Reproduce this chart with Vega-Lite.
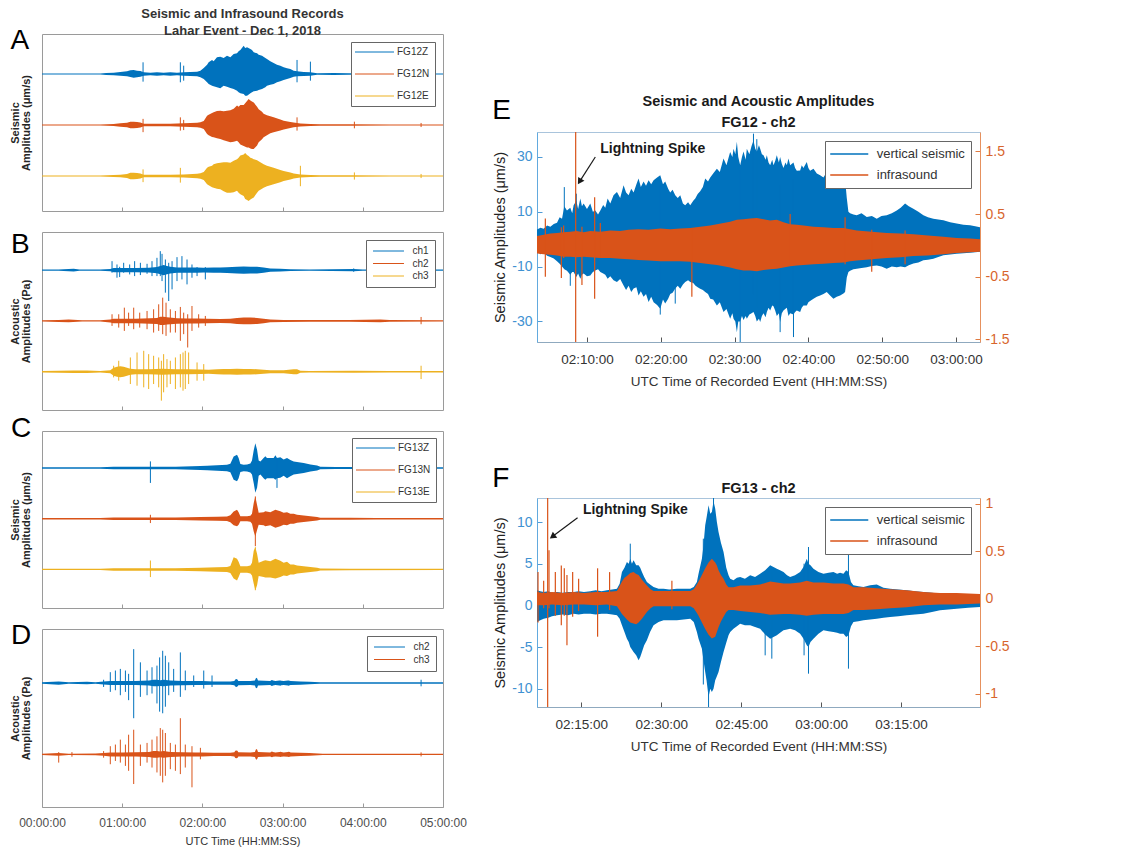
{
"$schema": "https://vega.github.io/schema/vega-lite/v6.json",
"background": "white",
"padding": {"left": 8, "top": 7, "right": 5, "bottom": 0},
"config": {"font": "Liberation Sans", "axis": {"grid": false, "labelOverlap": false}},
"datasets": {
"A": [
{"c":"FG12Z","t":0,"lo":-0.008,"hi":0.008},{"c":"FG12Z","t":43.6,"lo":-0.01,"hi":0.01},{"c":"FG12Z","t":48,"lo":-0.02,"hi":0.02},{"c":"FG12Z","t":53.6,"lo":-0.026,"hi":0.026},{"c":"FG12Z","t":58.6,"lo":-0.033,"hi":0.039},{"c":"FG12Z","t":63.6,"lo":-0.046,"hi":0.052},{"c":"FG12Z","t":66.1,"lo":-0.059,"hi":0.072},{"c":"FG12Z","t":68.6,"lo":-0.072,"hi":0.078},{"c":"FG12Z","t":71.1,"lo":-0.065,"hi":0.065},{"c":"FG12Z","t":73.6,"lo":-0.052,"hi":0.059},{"c":"FG12Z","t":76.1,"lo":-0.033,"hi":0.033},{"c":"FG12Z","t":81.1,"lo":-0.026,"hi":0.026},{"c":"FG12Z","t":86,"lo":-0.033,"hi":0.033},{"c":"FG12Z","t":91,"lo":-0.026,"hi":0.026},{"c":"FG12Z","t":96,"lo":-0.033,"hi":0.033},{"c":"FG12Z","t":101,"lo":-0.026,"hi":0.026},{"c":"FG12Z","t":106,"lo":-0.033,"hi":0.033},{"c":"FG12Z","t":111,"lo":-0.039,"hi":0.039},{"c":"FG12Z","t":116,"lo":-0.046,"hi":0.046},{"c":"FG12Z","t":118.5,"lo":-0.065,"hi":0.065},{"c":"FG12Z","t":121,"lo":-0.098,"hi":0.118},{"c":"FG12Z","t":123.5,"lo":-0.163,"hi":0.183},{"c":"FG12Z","t":124.7,"lo":-0.196,"hi":0.229},{"c":"FG12Z","t":127.2,"lo":-0.229,"hi":0.275},{"c":"FG12Z","t":128.4,"lo":-0.242,"hi":0.248},{"c":"FG12Z","t":130.9,"lo":-0.261,"hi":0.327},{"c":"FG12Z","t":133.4,"lo":-0.281,"hi":0.34},{"c":"FG12Z","t":135.9,"lo":-0.229,"hi":0.314},{"c":"FG12Z","t":138.4,"lo":-0.248,"hi":0.359},{"c":"FG12Z","t":140.9,"lo":-0.275,"hi":0.327},{"c":"FG12Z","t":143.4,"lo":-0.294,"hi":0.392},{"c":"FG12Z","t":145.9,"lo":-0.327,"hi":0.405},{"c":"FG12Z","t":147.1,"lo":-0.359,"hi":0.444},{"c":"FG12Z","t":148.4,"lo":-0.379,"hi":0.471},{"c":"FG12Z","t":150.9,"lo":-0.392,"hi":0.556},{"c":"FG12Z","t":152,"lo":-0.425,"hi":0.51},{"c":"FG12Z","t":153.4,"lo":-0.425,"hi":0.523},{"c":"FG12Z","t":155.9,"lo":-0.379,"hi":0.49},{"c":"FG12Z","t":157.1,"lo":-0.359,"hi":0.471},{"c":"FG12Z","t":158.4,"lo":-0.34,"hi":0.425},{"c":"FG12Z","t":160.9,"lo":-0.327,"hi":0.405},{"c":"FG12Z","t":162.1,"lo":-0.314,"hi":0.379},{"c":"FG12Z","t":164.6,"lo":-0.294,"hi":0.359},{"c":"FG12Z","t":167.1,"lo":-0.261,"hi":0.314},{"c":"FG12Z","t":168.3,"lo":-0.229,"hi":0.294},{"c":"FG12Z","t":170.8,"lo":-0.209,"hi":0.248},{"c":"FG12Z","t":173.3,"lo":-0.196,"hi":0.216},{"c":"FG12Z","t":175.8,"lo":-0.163,"hi":0.183},{"c":"FG12Z","t":178.3,"lo":-0.144,"hi":0.163},{"c":"FG12Z","t":180.8,"lo":-0.118,"hi":0.131},{"c":"FG12Z","t":183.3,"lo":-0.098,"hi":0.111},{"c":"FG12Z","t":185.8,"lo":-0.078,"hi":0.098},{"c":"FG12Z","t":188.3,"lo":-0.052,"hi":0.065},{"c":"FG12Z","t":190.8,"lo":-0.046,"hi":0.052},{"c":"FG12Z","t":195.8,"lo":-0.039,"hi":0.039},{"c":"FG12Z","t":200.8,"lo":-0.033,"hi":0.033},{"c":"FG12Z","t":205.8,"lo":-0.016,"hi":0.016},{"c":"FG12Z","t":218.2,"lo":-0.02,"hi":0.02},{"c":"FG12Z","t":230,"lo":-0.013,"hi":0.013},{"c":"FG12Z","t":260,"lo":-0.01,"hi":0.01},{"c":"FG12Z","t":300,"lo":-0.008,"hi":0.008},
{"c":"FG12N","t":0,"lo":-1.008,"hi":-0.992},{"c":"FG12N","t":43.6,"lo":-1.01,"hi":-0.99},{"c":"FG12N","t":53.6,"lo":-1.02,"hi":-0.98},{"c":"FG12N","t":58.6,"lo":-1.033,"hi":-0.967},{"c":"FG12N","t":63.6,"lo":-1.046,"hi":-0.954},{"c":"FG12N","t":66.1,"lo":-1.065,"hi":-0.935},{"c":"FG12N","t":68.6,"lo":-1.065,"hi":-0.935},{"c":"FG12N","t":71.1,"lo":-1.059,"hi":-0.941},{"c":"FG12N","t":73.6,"lo":-1.05,"hi":-0.95},{"c":"FG12N","t":76.1,"lo":-1.026,"hi":-0.974},{"c":"FG12N","t":86,"lo":-1.026,"hi":-0.974},{"c":"FG12N","t":96,"lo":-1.026,"hi":-0.974},{"c":"FG12N","t":106,"lo":-1.033,"hi":-0.967},{"c":"FG12N","t":116,"lo":-1.046,"hi":-0.954},{"c":"FG12N","t":118.5,"lo":-1.052,"hi":-0.948},{"c":"FG12N","t":121,"lo":-1.078,"hi":-0.922},{"c":"FG12N","t":123.5,"lo":-1.176,"hi":-0.817},{"c":"FG12N","t":124.7,"lo":-1.2,"hi":-0.8},{"c":"FG12N","t":127.2,"lo":-1.235,"hi":-0.765},{"c":"FG12N","t":128.4,"lo":-1.242,"hi":-0.752},{"c":"FG12N","t":130.9,"lo":-1.26,"hi":-0.725},{"c":"FG12N","t":133.4,"lo":-1.275,"hi":-0.719},{"c":"FG12N","t":135.9,"lo":-1.3,"hi":-0.73},{"c":"FG12N","t":138.4,"lo":-1.32,"hi":-0.72},{"c":"FG12N","t":140.9,"lo":-1.34,"hi":-0.71},{"c":"FG12N","t":143.4,"lo":-1.33,"hi":-0.68},{"c":"FG12N","t":145.9,"lo":-1.31,"hi":-0.62},{"c":"FG12N","t":147.1,"lo":-1.34,"hi":-0.64},{"c":"FG12N","t":148.4,"lo":-1.38,"hi":-0.61},{"c":"FG12N","t":150.9,"lo":-1.41,"hi":-0.61},{"c":"FG12N","t":153.4,"lo":-1.44,"hi":-0.53},{"c":"FG12N","t":154.6,"lo":-1.44,"hi":-0.49},{"c":"FG12N","t":155.9,"lo":-1.46,"hi":-0.52},{"c":"FG12N","t":157.1,"lo":-1.47,"hi":-0.54},{"c":"FG12N","t":158.4,"lo":-1.47,"hi":-0.56},{"c":"FG12N","t":160.9,"lo":-1.4,"hi":-0.64},{"c":"FG12N","t":162.1,"lo":-1.34,"hi":-0.69},{"c":"FG12N","t":164.6,"lo":-1.28,"hi":-0.74},{"c":"FG12N","t":165.8,"lo":-1.24,"hi":-0.78},{"c":"FG12N","t":168.3,"lo":-1.2,"hi":-0.81},{"c":"FG12N","t":170.8,"lo":-1.16,"hi":-0.83},{"c":"FG12N","t":173.3,"lo":-1.14,"hi":-0.85},{"c":"FG12N","t":178.3,"lo":-1.11,"hi":-0.89},{"c":"FG12N","t":180.8,"lo":-1.09,"hi":-0.915},{"c":"FG12N","t":185.8,"lo":-1.06,"hi":-0.94},{"c":"FG12N","t":188.3,"lo":-1.045,"hi":-0.95},{"c":"FG12N","t":193.3,"lo":-1.03,"hi":-0.97},{"c":"FG12N","t":200.8,"lo":-1.02,"hi":-0.98},{"c":"FG12N","t":208,"lo":-1.013,"hi":-0.987},{"c":"FG12N","t":233.7,"lo":-1.013,"hi":-0.987},{"c":"FG12N","t":260,"lo":-1.01,"hi":-0.99},{"c":"FG12N","t":300,"lo":-1.008,"hi":-0.992},
{"c":"FG12E","t":0,"lo":-2.008,"hi":-1.992},{"c":"FG12E","t":43.6,"lo":-2.01,"hi":-1.99},{"c":"FG12E","t":53.6,"lo":-2.02,"hi":-1.98},{"c":"FG12E","t":58.6,"lo":-2.026,"hi":-1.974},{"c":"FG12E","t":63.6,"lo":-2.04,"hi":-1.96},{"c":"FG12E","t":66.1,"lo":-2.065,"hi":-1.935},{"c":"FG12E","t":68.6,"lo":-2.065,"hi":-1.935},{"c":"FG12E","t":71.1,"lo":-2.06,"hi":-1.94},{"c":"FG12E","t":73.6,"lo":-2.05,"hi":-1.95},{"c":"FG12E","t":76.1,"lo":-2.026,"hi":-1.974},{"c":"FG12E","t":86,"lo":-2.026,"hi":-1.974},{"c":"FG12E","t":96,"lo":-2.026,"hi":-1.974},{"c":"FG12E","t":106,"lo":-2.03,"hi":-1.97},{"c":"FG12E","t":116,"lo":-2.046,"hi":-1.954},{"c":"FG12E","t":118.5,"lo":-2.052,"hi":-1.948},{"c":"FG12E","t":121,"lo":-2.08,"hi":-1.92},{"c":"FG12E","t":123.5,"lo":-2.16,"hi":-1.84},{"c":"FG12E","t":124.7,"lo":-2.18,"hi":-1.82},{"c":"FG12E","t":127.2,"lo":-2.22,"hi":-1.8},{"c":"FG12E","t":128.4,"lo":-2.23,"hi":-1.77},{"c":"FG12E","t":130.9,"lo":-2.25,"hi":-1.75},{"c":"FG12E","t":133.4,"lo":-2.26,"hi":-1.74},{"c":"FG12E","t":135.9,"lo":-2.3,"hi":-1.73},{"c":"FG12E","t":138.4,"lo":-2.33,"hi":-1.73},{"c":"FG12E","t":140.9,"lo":-2.33,"hi":-1.74},{"c":"FG12E","t":143.4,"lo":-2.32,"hi":-1.7},{"c":"FG12E","t":145.9,"lo":-2.29,"hi":-1.67},{"c":"FG12E","t":147.1,"lo":-2.33,"hi":-1.64},{"c":"FG12E","t":148.4,"lo":-2.36,"hi":-1.6},{"c":"FG12E","t":150.9,"lo":-2.39,"hi":-1.58},{"c":"FG12E","t":152,"lo":-2.45,"hi":-1.55},{"c":"FG12E","t":153.4,"lo":-2.47,"hi":-1.59},{"c":"FG12E","t":154.6,"lo":-2.49,"hi":-1.61},{"c":"FG12E","t":155.9,"lo":-2.46,"hi":-1.64},{"c":"FG12E","t":157.1,"lo":-2.44,"hi":-1.65},{"c":"FG12E","t":158.4,"lo":-2.42,"hi":-1.67},{"c":"FG12E","t":160.9,"lo":-2.33,"hi":-1.69},{"c":"FG12E","t":162.1,"lo":-2.29,"hi":-1.71},{"c":"FG12E","t":164.6,"lo":-2.25,"hi":-1.75},{"c":"FG12E","t":165.8,"lo":-2.23,"hi":-1.77},{"c":"FG12E","t":168.3,"lo":-2.2,"hi":-1.8},{"c":"FG12E","t":170.8,"lo":-2.18,"hi":-1.82},{"c":"FG12E","t":173.3,"lo":-2.16,"hi":-1.84},{"c":"FG12E","t":178.3,"lo":-2.12,"hi":-1.88},{"c":"FG12E","t":180.8,"lo":-2.1,"hi":-1.9},{"c":"FG12E","t":185.8,"lo":-2.07,"hi":-1.93},{"c":"FG12E","t":188.3,"lo":-2.05,"hi":-1.95},{"c":"FG12E","t":193.3,"lo":-2.03,"hi":-1.97},{"c":"FG12E","t":200.8,"lo":-2.02,"hi":-1.98},{"c":"FG12E","t":208,"lo":-2.013,"hi":-1.987},{"c":"FG12E","t":233.7,"lo":-2.013,"hi":-1.987},{"c":"FG12E","t":260,"lo":-2.01,"hi":-1.99},{"c":"FG12E","t":300,"lo":-2.008,"hi":-1.992}
],
"As": [
{"c":"FG12Z","t":75.6,"lo":-0.15,"hi":0.229},{"c":"FG12Z","t":103.5,"lo":-0.163,"hi":0.229},{"c":"FG12Z","t":106,"lo":-0.131,"hi":0.163},{"c":"FG12Z","t":190.8,"lo":-0.163,"hi":0.275},{"c":"FG12Z","t":200.8,"lo":-0.131,"hi":0.242},
{"c":"FG12N","t":75.6,"lo":-1.14,"hi":-0.88},{"c":"FG12N","t":103.5,"lo":-1.11,"hi":-0.85},{"c":"FG12N","t":106,"lo":-1.1,"hi":-0.9},{"c":"FG12N","t":190.8,"lo":-1.11,"hi":-0.85},{"c":"FG12N","t":233.7,"lo":-1.065,"hi":-0.935},{"c":"FG12N","t":283.6,"lo":-1.04,"hi":-0.96},
{"c":"FG12E","t":75.6,"lo":-2.12,"hi":-1.87},{"c":"FG12E","t":103.5,"lo":-2.13,"hi":-1.84},{"c":"FG12E","t":193.3,"lo":-2.2,"hi":-1.8},{"c":"FG12E","t":233.7,"lo":-2.07,"hi":-1.93},{"c":"FG12E","t":283.6,"lo":-2.04,"hi":-1.96}
],
"B": [
{"c":"ch1","t":0,"lo":-0.013,"hi":0.013},{"c":"ch1","t":12.5,"lo":-0.013,"hi":0.013},{"c":"ch1","t":23.7,"lo":-0.026,"hi":0.026},{"c":"ch1","t":28,"lo":-0.013,"hi":0.013},{"c":"ch1","t":43.6,"lo":-0.013,"hi":0.013},{"c":"ch1","t":51.1,"lo":-0.02,"hi":0.02},{"c":"ch1","t":53.6,"lo":-0.04,"hi":0.04},{"c":"ch1","t":60,"lo":-0.04,"hi":0.04},{"c":"ch1","t":70,"lo":-0.04,"hi":0.04},{"c":"ch1","t":80,"lo":-0.045,"hi":0.045},{"c":"ch1","t":86,"lo":-0.06,"hi":0.06},{"c":"ch1","t":88.5,"lo":-0.08,"hi":0.08},{"c":"ch1","t":91,"lo":-0.1,"hi":0.1},{"c":"ch1","t":93.5,"lo":-0.08,"hi":0.08},{"c":"ch1","t":96,"lo":-0.065,"hi":0.065},{"c":"ch1","t":101,"lo":-0.05,"hi":0.05},{"c":"ch1","t":108.5,"lo":-0.05,"hi":0.05},{"c":"ch1","t":116,"lo":-0.05,"hi":0.05},{"c":"ch1","t":121,"lo":-0.045,"hi":0.045},{"c":"ch1","t":128.4,"lo":-0.05,"hi":0.05},{"c":"ch1","t":133.4,"lo":-0.05,"hi":0.05},{"c":"ch1","t":138.4,"lo":-0.055,"hi":0.055},{"c":"ch1","t":145.9,"lo":-0.065,"hi":0.065},{"c":"ch1","t":150.9,"lo":-0.07,"hi":0.07},{"c":"ch1","t":155.9,"lo":-0.065,"hi":0.065},{"c":"ch1","t":160.9,"lo":-0.065,"hi":0.065},{"c":"ch1","t":165.8,"lo":-0.05,"hi":0.05},{"c":"ch1","t":170.8,"lo":-0.03,"hi":0.03},{"c":"ch1","t":178.3,"lo":-0.026,"hi":0.026},{"c":"ch1","t":185.8,"lo":-0.016,"hi":0.016},{"c":"ch1","t":200,"lo":-0.013,"hi":0.013},{"c":"ch1","t":233.2,"lo":-0.02,"hi":0.02},{"c":"ch1","t":240,"lo":-0.013,"hi":0.013},{"c":"ch1","t":300,"lo":-0.013,"hi":0.013},
{"c":"ch2","t":0,"lo":-1.013,"hi":-0.987},{"c":"ch2","t":12.5,"lo":-1.02,"hi":-0.98},{"c":"ch2","t":20,"lo":-1.026,"hi":-0.974},{"c":"ch2","t":30,"lo":-1.013,"hi":-0.987},{"c":"ch2","t":43.6,"lo":-1.013,"hi":-0.987},{"c":"ch2","t":51.1,"lo":-1.03,"hi":-0.97},{"c":"ch2","t":53.6,"lo":-1.045,"hi":-0.955},{"c":"ch2","t":70,"lo":-1.045,"hi":-0.955},{"c":"ch2","t":86,"lo":-1.06,"hi":-0.94},{"c":"ch2","t":88.5,"lo":-1.08,"hi":-0.92},{"c":"ch2","t":91,"lo":-1.08,"hi":-0.92},{"c":"ch2","t":93.5,"lo":-1.07,"hi":-0.93},{"c":"ch2","t":101,"lo":-1.055,"hi":-0.945},{"c":"ch2","t":108.5,"lo":-1.05,"hi":-0.95},{"c":"ch2","t":116,"lo":-1.05,"hi":-0.95},{"c":"ch2","t":123.5,"lo":-1.045,"hi":-0.955},{"c":"ch2","t":133.4,"lo":-1.04,"hi":-0.96},{"c":"ch2","t":140.9,"lo":-1.045,"hi":-0.955},{"c":"ch2","t":145.9,"lo":-1.06,"hi":-0.94},{"c":"ch2","t":150.9,"lo":-1.065,"hi":-0.935},{"c":"ch2","t":155.9,"lo":-1.065,"hi":-0.935},{"c":"ch2","t":160.9,"lo":-1.06,"hi":-0.94},{"c":"ch2","t":165.8,"lo":-1.045,"hi":-0.955},{"c":"ch2","t":170.8,"lo":-1.026,"hi":-0.974},{"c":"ch2","t":180.8,"lo":-1.02,"hi":-0.98},{"c":"ch2","t":200,"lo":-1.016,"hi":-0.984},{"c":"ch2","t":230,"lo":-1.016,"hi":-0.984},{"c":"ch2","t":253.1,"lo":-1.026,"hi":-0.974},{"c":"ch2","t":260,"lo":-1.016,"hi":-0.984},{"c":"ch2","t":300,"lo":-1.013,"hi":-0.987},
{"c":"ch3","t":0,"lo":-2.016,"hi":-1.984},{"c":"ch3","t":12.5,"lo":-2.02,"hi":-1.98},{"c":"ch3","t":23.7,"lo":-2.026,"hi":-1.974},{"c":"ch3","t":33.7,"lo":-2.026,"hi":-1.974},{"c":"ch3","t":43.6,"lo":-2.016,"hi":-1.984},{"c":"ch3","t":51.1,"lo":-2.03,"hi":-1.97},{"c":"ch3","t":53.6,"lo":-2.08,"hi":-1.92},{"c":"ch3","t":56.1,"lo":-2.1,"hi":-1.9},{"c":"ch3","t":58.6,"lo":-2.11,"hi":-1.89},{"c":"ch3","t":61.1,"lo":-2.1,"hi":-1.9},{"c":"ch3","t":63.6,"lo":-2.08,"hi":-1.92},{"c":"ch3","t":66.1,"lo":-2.06,"hi":-1.94},{"c":"ch3","t":70,"lo":-2.05,"hi":-1.95},{"c":"ch3","t":80,"lo":-2.05,"hi":-1.95},{"c":"ch3","t":90,"lo":-2.06,"hi":-1.94},{"c":"ch3","t":100,"lo":-2.05,"hi":-1.95},{"c":"ch3","t":110,"lo":-2.05,"hi":-1.95},{"c":"ch3","t":118.5,"lo":-2.045,"hi":-1.955},{"c":"ch3","t":124.7,"lo":-2.04,"hi":-1.96},{"c":"ch3","t":131,"lo":-2.05,"hi":-1.95},{"c":"ch3","t":135.9,"lo":-2.055,"hi":-1.945},{"c":"ch3","t":140.9,"lo":-2.055,"hi":-1.945},{"c":"ch3","t":145.9,"lo":-2.06,"hi":-1.94},{"c":"ch3","t":150.9,"lo":-2.055,"hi":-1.945},{"c":"ch3","t":155.9,"lo":-2.055,"hi":-1.945},{"c":"ch3","t":160.9,"lo":-2.05,"hi":-1.95},{"c":"ch3","t":165.8,"lo":-2.04,"hi":-1.96},{"c":"ch3","t":170.8,"lo":-2.03,"hi":-1.97},{"c":"ch3","t":180.8,"lo":-2.03,"hi":-1.97},{"c":"ch3","t":184.6,"lo":-2.04,"hi":-1.96},{"c":"ch3","t":188.3,"lo":-2.05,"hi":-1.95},{"c":"ch3","t":190.8,"lo":-2.05,"hi":-1.95},{"c":"ch3","t":193.3,"lo":-2.02,"hi":-1.98},{"c":"ch3","t":200,"lo":-2.016,"hi":-1.984},{"c":"ch3","t":233.2,"lo":-2.02,"hi":-1.98},{"c":"ch3","t":260,"lo":-2.016,"hi":-1.984},{"c":"ch3","t":300,"lo":-2.016,"hi":-1.984}
],
"Bs": [
{"c":"ch1","t":52.4,"lo":-0.052,"hi":0.176},{"c":"ch1","t":56.1,"lo":-0.15,"hi":0.111},{"c":"ch1","t":58.1,"lo":-0.137,"hi":0.065},{"c":"ch1","t":61.1,"lo":-0.052,"hi":0.144},{"c":"ch1","t":65.6,"lo":-0.085,"hi":0.111},{"c":"ch1","t":69.3,"lo":-0.118,"hi":0.176},{"c":"ch1","t":73.6,"lo":-0.098,"hi":0.144},{"c":"ch1","t":78.6,"lo":-0.072,"hi":0.124},{"c":"ch1","t":82.3,"lo":-0.118,"hi":0.176},{"c":"ch1","t":86.0,"lo":-0.118,"hi":0.242},{"c":"ch1","t":88.5,"lo":-0.118,"hi":0.373},{"c":"ch1","t":89.8,"lo":-0.216,"hi":0.32},{"c":"ch1","t":92.3,"lo":-0.444,"hi":0.209},{"c":"ch1","t":94.8,"lo":-0.608,"hi":0.144},{"c":"ch1","t":97.3,"lo":-0.379,"hi":0.176},{"c":"ch1","t":101.0,"lo":-0.216,"hi":0.255},{"c":"ch1","t":104.7,"lo":-0.183,"hi":0.275},{"c":"ch1","t":108.5,"lo":-0.281,"hi":0.209},{"c":"ch1","t":112.2,"lo":-0.15,"hi":0.111},{"c":"ch1","t":116.0,"lo":-0.118,"hi":0.059},{"c":"ch1","t":122.2,"lo":-0.183,"hi":0.059},{"c":"ch1","t":233.2,"lo":-0.033,"hi":0.033},{"c":"ch1","t":275.6,"lo":-0.03,"hi":0.03},
{"c":"ch2","t":52.4,"lo":-1.098,"hi":-0.869},{"c":"ch2","t":57.4,"lo":-1.131,"hi":-0.869},{"c":"ch2","t":61.6,"lo":-1.196,"hi":-0.739},{"c":"ch2","t":64.8,"lo":-1.098,"hi":-0.837},{"c":"ch2","t":68.6,"lo":-1.163,"hi":-0.739},{"c":"ch2","t":73.1,"lo":-1.131,"hi":-0.837},{"c":"ch2","t":78.6,"lo":-1.163,"hi":-0.804},{"c":"ch2","t":83.5,"lo":-1.229,"hi":-0.771},{"c":"ch2","t":87.3,"lo":-1.196,"hi":-0.673},{"c":"ch2","t":90.3,"lo":-1.261,"hi":-0.542},{"c":"ch2","t":92.8,"lo":-1.294,"hi":-0.641},{"c":"ch2","t":96.0,"lo":-1.229,"hi":-0.771},{"c":"ch2","t":99.8,"lo":-1.229,"hi":-0.804},{"c":"ch2","t":103.5,"lo":-1.392,"hi":-0.725},{"c":"ch2","t":106.0,"lo":-1.261,"hi":-0.837},{"c":"ch2","t":109.0,"lo":-1.523,"hi":-0.869},{"c":"ch2","t":112.2,"lo":-1.196,"hi":-0.706},{"c":"ch2","t":117.2,"lo":-1.131,"hi":-0.869},{"c":"ch2","t":122.2,"lo":-1.098,"hi":-0.902},{"c":"ch2","t":283.6,"lo":-1.065,"hi":-0.922},
{"c":"ch3","t":53.6,"lo":-2.111,"hi":-1.882},{"c":"ch3","t":57.4,"lo":-2.176,"hi":-1.784},{"c":"ch3","t":66.1,"lo":-2.242,"hi":-1.719},{"c":"ch3","t":71.1,"lo":-2.275,"hi":-1.621},{"c":"ch3","t":76.1,"lo":-2.307,"hi":-1.588},{"c":"ch3","t":79.8,"lo":-2.34,"hi":-1.654},{"c":"ch3","t":83.5,"lo":-2.242,"hi":-1.686},{"c":"ch3","t":87.3,"lo":-2.307,"hi":-1.719},{"c":"ch3","t":89.3,"lo":-2.569,"hi":-1.784},{"c":"ch3","t":91.0,"lo":-2.405,"hi":-1.654},{"c":"ch3","t":93.5,"lo":-2.307,"hi":-1.752},{"c":"ch3","t":96.0,"lo":-2.242,"hi":-1.784},{"c":"ch3","t":99.8,"lo":-2.34,"hi":-1.719},{"c":"ch3","t":103.5,"lo":-2.307,"hi":-1.654},{"c":"ch3","t":105.5,"lo":-2.373,"hi":-1.621},{"c":"ch3","t":107.2,"lo":-2.34,"hi":-1.588},{"c":"ch3","t":109.7,"lo":-2.242,"hi":-1.621},{"c":"ch3","t":116.0,"lo":-2.176,"hi":-1.817},{"c":"ch3","t":121.0,"lo":-2.176,"hi":-1.85},{"c":"ch3","t":283.6,"lo":-2.144,"hi":-1.882}
],
"C": [
{"c":"FG13Z","t":0,"lo":-0.013,"hi":0.013},{"c":"FG13Z","t":43.6,"lo":-0.013,"hi":0.013},{"c":"FG13Z","t":53.6,"lo":-0.026,"hi":0.026},{"c":"FG13Z","t":100,"lo":-0.026,"hi":0.026},{"c":"FG13Z","t":118.5,"lo":-0.04,"hi":0.04},{"c":"FG13Z","t":123.5,"lo":-0.045,"hi":0.045},{"c":"FG13Z","t":130.9,"lo":-0.055,"hi":0.055},{"c":"FG13Z","t":138.4,"lo":-0.065,"hi":0.065},{"c":"FG13Z","t":140.9,"lo":-0.085,"hi":0.085},{"c":"FG13Z","t":143.4,"lo":-0.229,"hi":0.229},{"c":"FG13Z","t":145.9,"lo":-0.26,"hi":0.26},{"c":"FG13Z","t":147.1,"lo":-0.2,"hi":0.2},{"c":"FG13Z","t":148.4,"lo":-0.08,"hi":0.08},{"c":"FG13Z","t":150.9,"lo":-0.065,"hi":0.065},{"c":"FG13Z","t":153.4,"lo":-0.07,"hi":0.07},{"c":"FG13Z","t":155.9,"lo":-0.09,"hi":0.09},{"c":"FG13Z","t":157.1,"lo":-0.13,"hi":0.15},{"c":"FG13Z","t":158.4,"lo":-0.3,"hi":0.35},{"c":"FG13Z","t":159.6,"lo":-0.49,"hi":0.49},{"c":"FG13Z","t":160.9,"lo":-0.39,"hi":0.36},{"c":"FG13Z","t":162.1,"lo":-0.15,"hi":0.15},{"c":"FG13Z","t":163.4,"lo":-0.13,"hi":0.13},{"c":"FG13Z","t":165.8,"lo":-0.2,"hi":0.2},{"c":"FG13Z","t":167.1,"lo":-0.23,"hi":0.23},{"c":"FG13Z","t":168.3,"lo":-0.2,"hi":0.2},{"c":"FG13Z","t":170.8,"lo":-0.2,"hi":0.2},{"c":"FG13Z","t":173.3,"lo":-0.2,"hi":0.2},{"c":"FG13Z","t":174.6,"lo":-0.23,"hi":0.25},{"c":"FG13Z","t":175.8,"lo":-0.2,"hi":0.2},{"c":"FG13Z","t":178.3,"lo":-0.19,"hi":0.21},{"c":"FG13Z","t":180.8,"lo":-0.15,"hi":0.17},{"c":"FG13Z","t":183.3,"lo":-0.2,"hi":0.2},{"c":"FG13Z","t":185.8,"lo":-0.16,"hi":0.16},{"c":"FG13Z","t":188.3,"lo":-0.13,"hi":0.13},{"c":"FG13Z","t":190.8,"lo":-0.12,"hi":0.12},{"c":"FG13Z","t":195.8,"lo":-0.1,"hi":0.1},{"c":"FG13Z","t":200.8,"lo":-0.07,"hi":0.07},{"c":"FG13Z","t":205.8,"lo":-0.05,"hi":0.05},{"c":"FG13Z","t":208.2,"lo":-0.026,"hi":0.026},{"c":"FG13Z","t":220,"lo":-0.02,"hi":0.02},{"c":"FG13Z","t":233,"lo":-0.02,"hi":0.02},{"c":"FG13Z","t":250,"lo":-0.013,"hi":0.013},{"c":"FG13Z","t":300,"lo":-0.013,"hi":0.013},
{"c":"FG13N","t":0,"lo":-1.013,"hi":-0.987},{"c":"FG13N","t":43.6,"lo":-1.013,"hi":-0.987},{"c":"FG13N","t":53.6,"lo":-1.026,"hi":-0.974},{"c":"FG13N","t":100,"lo":-1.026,"hi":-0.974},{"c":"FG13N","t":118.5,"lo":-1.035,"hi":-0.965},{"c":"FG13N","t":130.9,"lo":-1.04,"hi":-0.96},{"c":"FG13N","t":138.4,"lo":-1.045,"hi":-0.955},{"c":"FG13N","t":140.9,"lo":-1.07,"hi":-0.93},{"c":"FG13N","t":143.4,"lo":-1.13,"hi":-0.856},{"c":"FG13N","t":145.9,"lo":-1.15,"hi":-0.824},{"c":"FG13N","t":147.1,"lo":-1.12,"hi":-0.87},{"c":"FG13N","t":148.4,"lo":-1.05,"hi":-0.95},{"c":"FG13N","t":153.4,"lo":-1.05,"hi":-0.95},{"c":"FG13N","t":155.9,"lo":-1.06,"hi":-0.94},{"c":"FG13N","t":157.1,"lo":-1.1,"hi":-0.9},{"c":"FG13N","t":158.4,"lo":-1.25,"hi":-0.69},{"c":"FG13N","t":159.6,"lo":-1.35,"hi":-0.56},{"c":"FG13N","t":160.9,"lo":-1.22,"hi":-0.73},{"c":"FG13N","t":162.1,"lo":-1.12,"hi":-0.88},{"c":"FG13N","t":165.8,"lo":-1.13,"hi":-0.87},{"c":"FG13N","t":167.1,"lo":-1.15,"hi":-0.85},{"c":"FG13N","t":170.8,"lo":-1.13,"hi":-0.87},{"c":"FG13N","t":174.6,"lo":-1.18,"hi":-0.824},{"c":"FG13N","t":178.3,"lo":-1.15,"hi":-0.85},{"c":"FG13N","t":180.8,"lo":-1.12,"hi":-0.88},{"c":"FG13N","t":183.3,"lo":-1.13,"hi":-0.87},{"c":"FG13N","t":185.8,"lo":-1.1,"hi":-0.9},{"c":"FG13N","t":188.3,"lo":-1.1,"hi":-0.9},{"c":"FG13N","t":190.8,"lo":-1.08,"hi":-0.92},{"c":"FG13N","t":195.8,"lo":-1.065,"hi":-0.935},{"c":"FG13N","t":200.8,"lo":-1.05,"hi":-0.95},{"c":"FG13N","t":205.8,"lo":-1.033,"hi":-0.967},{"c":"FG13N","t":208.2,"lo":-1.02,"hi":-0.98},{"c":"FG13N","t":230,"lo":-1.02,"hi":-0.98},{"c":"FG13N","t":250,"lo":-1.016,"hi":-0.984},{"c":"FG13N","t":300,"lo":-1.013,"hi":-0.987},
{"c":"FG13E","t":0,"lo":-2.013,"hi":-1.987},{"c":"FG13E","t":43.6,"lo":-2.013,"hi":-1.987},{"c":"FG13E","t":53.6,"lo":-2.026,"hi":-1.974},{"c":"FG13E","t":100,"lo":-2.026,"hi":-1.974},{"c":"FG13E","t":118.5,"lo":-2.035,"hi":-1.965},{"c":"FG13E","t":130.9,"lo":-2.045,"hi":-1.955},{"c":"FG13E","t":138.4,"lo":-2.05,"hi":-1.95},{"c":"FG13E","t":140.9,"lo":-2.07,"hi":-1.93},{"c":"FG13E","t":143.4,"lo":-2.18,"hi":-1.76},{"c":"FG13E","t":145.9,"lo":-2.22,"hi":-1.79},{"c":"FG13E","t":147.1,"lo":-2.15,"hi":-1.85},{"c":"FG13E","t":148.4,"lo":-2.065,"hi":-1.935},{"c":"FG13E","t":153.4,"lo":-2.065,"hi":-1.935},{"c":"FG13E","t":155.9,"lo":-2.08,"hi":-1.92},{"c":"FG13E","t":157.1,"lo":-2.12,"hi":-1.87},{"c":"FG13E","t":158.4,"lo":-2.28,"hi":-1.63},{"c":"FG13E","t":159.6,"lo":-2.41,"hi":-1.56},{"c":"FG13E","t":160.9,"lo":-2.31,"hi":-1.69},{"c":"FG13E","t":162.1,"lo":-2.13,"hi":-1.87},{"c":"FG13E","t":165.8,"lo":-2.15,"hi":-1.83},{"c":"FG13E","t":167.1,"lo":-2.16,"hi":-1.82},{"c":"FG13E","t":170.8,"lo":-2.16,"hi":-1.84},{"c":"FG13E","t":174.6,"lo":-2.18,"hi":-1.79},{"c":"FG13E","t":178.3,"lo":-2.15,"hi":-1.83},{"c":"FG13E","t":180.8,"lo":-2.12,"hi":-1.87},{"c":"FG13E","t":183.3,"lo":-2.13,"hi":-1.85},{"c":"FG13E","t":185.8,"lo":-2.1,"hi":-1.9},{"c":"FG13E","t":188.3,"lo":-2.1,"hi":-1.9},{"c":"FG13E","t":190.8,"lo":-2.08,"hi":-1.92},{"c":"FG13E","t":195.8,"lo":-2.065,"hi":-1.935},{"c":"FG13E","t":200.8,"lo":-2.05,"hi":-1.95},{"c":"FG13E","t":205.8,"lo":-2.033,"hi":-1.967},{"c":"FG13E","t":208.2,"lo":-2.02,"hi":-1.98},{"c":"FG13E","t":230,"lo":-2.016,"hi":-1.984},{"c":"FG13E","t":300,"lo":-2.013,"hi":-1.987}
],
"Cs": [
{"c":"FG13Z","t":81.1,"lo":-0.294,"hi":0.131},{"c":"FG13Z","t":175.8,"lo":-0.392,"hi":0.2},
{"c":"FG13N","t":81.1,"lo":-1.085,"hi":-0.922},{"c":"FG13N","t":159.6,"lo":-1.542,"hi":-0.56},
{"c":"FG13E","t":81.1,"lo":-2.15,"hi":-1.824},{"c":"FG13E","t":159.6,"lo":-2.41,"hi":-1.562}
],
"D": [
{"c":"ch2","t":0,"lo":-0.01,"hi":0.01},{"c":"ch2","t":12.5,"lo":-0.023,"hi":0.023},{"c":"ch2","t":20,"lo":-0.01,"hi":0.01},{"c":"ch2","t":33.7,"lo":-0.018,"hi":0.018},{"c":"ch2","t":40,"lo":-0.01,"hi":0.01},{"c":"ch2","t":46.1,"lo":-0.02,"hi":0.02},{"c":"ch2","t":51.1,"lo":-0.028,"hi":0.028},{"c":"ch2","t":60,"lo":-0.028,"hi":0.028},{"c":"ch2","t":70,"lo":-0.028,"hi":0.028},{"c":"ch2","t":80,"lo":-0.035,"hi":0.035},{"c":"ch2","t":83.5,"lo":-0.046,"hi":0.046},{"c":"ch2","t":86,"lo":-0.046,"hi":0.046},{"c":"ch2","t":88.5,"lo":-0.04,"hi":0.04},{"c":"ch2","t":91,"lo":-0.046,"hi":0.046},{"c":"ch2","t":96,"lo":-0.035,"hi":0.035},{"c":"ch2","t":105,"lo":-0.03,"hi":0.03},{"c":"ch2","t":115,"lo":-0.028,"hi":0.028},{"c":"ch2","t":120,"lo":-0.028,"hi":0.028},{"c":"ch2","t":128.4,"lo":-0.023,"hi":0.023},{"c":"ch2","t":140.9,"lo":-0.023,"hi":0.023},{"c":"ch2","t":143.9,"lo":-0.03,"hi":0.03},{"c":"ch2","t":144.6,"lo":-0.05,"hi":0.05},{"c":"ch2","t":145.4,"lo":-0.055,"hi":0.055},{"c":"ch2","t":146.2,"lo":-0.05,"hi":0.05},{"c":"ch2","t":146.9,"lo":-0.03,"hi":0.03},{"c":"ch2","t":155.9,"lo":-0.028,"hi":0.028},{"c":"ch2","t":159.3,"lo":-0.035,"hi":0.035},{"c":"ch2","t":159.9,"lo":-0.065,"hi":0.065},{"c":"ch2","t":160.4,"lo":-0.074,"hi":0.074},{"c":"ch2","t":161,"lo":-0.065,"hi":0.065},{"c":"ch2","t":161.6,"lo":-0.035,"hi":0.035},{"c":"ch2","t":170.8,"lo":-0.028,"hi":0.028},{"c":"ch2","t":171.5,"lo":-0.038,"hi":0.038},{"c":"ch2","t":172.1,"lo":-0.041,"hi":0.041},{"c":"ch2","t":172.8,"lo":-0.035,"hi":0.035},{"c":"ch2","t":174.6,"lo":-0.028,"hi":0.028},{"c":"ch2","t":177.7,"lo":-0.034,"hi":0.034},{"c":"ch2","t":178.3,"lo":-0.037,"hi":0.037},{"c":"ch2","t":179,"lo":-0.032,"hi":0.032},{"c":"ch2","t":180.8,"lo":-0.028,"hi":0.028},{"c":"ch2","t":184,"lo":-0.034,"hi":0.034},{"c":"ch2","t":184.6,"lo":-0.037,"hi":0.037},{"c":"ch2","t":185.3,"lo":-0.032,"hi":0.032},{"c":"ch2","t":186,"lo":-0.028,"hi":0.028},{"c":"ch2","t":193.3,"lo":-0.023,"hi":0.023},{"c":"ch2","t":200,"lo":-0.018,"hi":0.018},{"c":"ch2","t":208,"lo":-0.01,"hi":0.01},{"c":"ch2","t":300,"lo":-0.01,"hi":0.01},
{"c":"ch3","t":0,"lo":-1.01,"hi":-0.99},{"c":"ch3","t":12.5,"lo":-1.02,"hi":-0.98},{"c":"ch3","t":20,"lo":-1.01,"hi":-0.99},{"c":"ch3","t":40,"lo":-1.012,"hi":-0.988},{"c":"ch3","t":46.1,"lo":-1.02,"hi":-0.98},{"c":"ch3","t":51.1,"lo":-1.028,"hi":-0.972},{"c":"ch3","t":60,"lo":-1.028,"hi":-0.972},{"c":"ch3","t":70,"lo":-1.03,"hi":-0.97},{"c":"ch3","t":80,"lo":-1.035,"hi":-0.965},{"c":"ch3","t":83.5,"lo":-1.046,"hi":-0.954},{"c":"ch3","t":86,"lo":-1.046,"hi":-0.954},{"c":"ch3","t":88.5,"lo":-1.04,"hi":-0.96},{"c":"ch3","t":91,"lo":-1.046,"hi":-0.954},{"c":"ch3","t":96,"lo":-1.035,"hi":-0.965},{"c":"ch3","t":105,"lo":-1.03,"hi":-0.97},{"c":"ch3","t":115,"lo":-1.028,"hi":-0.972},{"c":"ch3","t":120,"lo":-1.028,"hi":-0.972},{"c":"ch3","t":128.4,"lo":-1.023,"hi":-0.977},{"c":"ch3","t":140.9,"lo":-1.023,"hi":-0.977},{"c":"ch3","t":143.9,"lo":-1.03,"hi":-0.97},{"c":"ch3","t":144.6,"lo":-1.05,"hi":-0.95},{"c":"ch3","t":145.4,"lo":-1.055,"hi":-0.945},{"c":"ch3","t":146.2,"lo":-1.05,"hi":-0.95},{"c":"ch3","t":146.9,"lo":-1.03,"hi":-0.97},{"c":"ch3","t":155.9,"lo":-1.028,"hi":-0.972},{"c":"ch3","t":159.3,"lo":-1.035,"hi":-0.965},{"c":"ch3","t":159.9,"lo":-1.065,"hi":-0.935},{"c":"ch3","t":160.4,"lo":-1.074,"hi":-0.926},{"c":"ch3","t":161,"lo":-1.065,"hi":-0.935},{"c":"ch3","t":161.6,"lo":-1.035,"hi":-0.965},{"c":"ch3","t":170.8,"lo":-1.028,"hi":-0.972},{"c":"ch3","t":171.5,"lo":-1.036,"hi":-0.964},{"c":"ch3","t":172.1,"lo":-1.04,"hi":-0.96},{"c":"ch3","t":172.8,"lo":-1.034,"hi":-0.966},{"c":"ch3","t":174.6,"lo":-1.028,"hi":-0.972},{"c":"ch3","t":177.7,"lo":-1.034,"hi":-0.966},{"c":"ch3","t":178.3,"lo":-1.037,"hi":-0.963},{"c":"ch3","t":179,"lo":-1.032,"hi":-0.968},{"c":"ch3","t":180.8,"lo":-1.028,"hi":-0.972},{"c":"ch3","t":184,"lo":-1.034,"hi":-0.966},{"c":"ch3","t":184.6,"lo":-1.037,"hi":-0.963},{"c":"ch3","t":185.3,"lo":-1.032,"hi":-0.968},{"c":"ch3","t":186,"lo":-1.028,"hi":-0.972},{"c":"ch3","t":193.3,"lo":-1.023,"hi":-0.977},{"c":"ch3","t":200,"lo":-1.018,"hi":-0.982},{"c":"ch3","t":210,"lo":-1.01,"hi":-0.99},{"c":"ch3","t":300,"lo":-1.01,"hi":-0.99}
],
"Ds": [
{"c":"ch2","t":46.1,"lo":-0.055,"hi":0.046},{"c":"ch2","t":51.1,"lo":-0.124,"hi":0.152},{"c":"ch2","t":54.9,"lo":-0.101,"hi":0.175},{"c":"ch2","t":58.6,"lo":-0.171,"hi":0.198},{"c":"ch2","t":62.4,"lo":-0.124,"hi":0.175},{"c":"ch2","t":64.8,"lo":-0.24,"hi":0.129},{"c":"ch2","t":68.6,"lo":-0.493,"hi":0.475},{"c":"ch2","t":73.6,"lo":-0.194,"hi":0.29},{"c":"ch2","t":78.6,"lo":-0.171,"hi":0.175},{"c":"ch2","t":82.3,"lo":-0.147,"hi":0.221},{"c":"ch2","t":86.0,"lo":-0.286,"hi":0.244},{"c":"ch2","t":88.0,"lo":-0.401,"hi":0.359},{"c":"ch2","t":90.3,"lo":-0.424,"hi":0.452},{"c":"ch2","t":92.3,"lo":-0.332,"hi":0.382},{"c":"ch2","t":94.8,"lo":-0.171,"hi":0.29},{"c":"ch2","t":98.5,"lo":-0.124,"hi":0.198},{"c":"ch2","t":103.5,"lo":-0.194,"hi":0.429},{"c":"ch2","t":107.2,"lo":-0.101,"hi":0.175},{"c":"ch2","t":113.5,"lo":-0.055,"hi":0.106},{"c":"ch2","t":121.0,"lo":-0.078,"hi":0.175},{"c":"ch2","t":127.2,"lo":-0.055,"hi":0.106},{"c":"ch2","t":283.6,"lo":-0.046,"hi":0.046},
{"c":"ch3","t":12.5,"lo":-1.115,"hi":-0.968},{"c":"ch3","t":22.4,"lo":-1.032,"hi":-0.968},{"c":"ch3","t":46.1,"lo":-1.046,"hi":-0.954},{"c":"ch3","t":51.1,"lo":-1.138,"hi":-0.885},{"c":"ch3","t":54.9,"lo":-1.092,"hi":-0.862},{"c":"ch3","t":58.6,"lo":-1.115,"hi":-0.793},{"c":"ch3","t":62.4,"lo":-1.161,"hi":-0.862},{"c":"ch3","t":64.8,"lo":-1.23,"hi":-0.724},{"c":"ch3","t":68.6,"lo":-1.415,"hi":-0.654},{"c":"ch3","t":73.6,"lo":-1.161,"hi":-0.862},{"c":"ch3","t":78.6,"lo":-1.115,"hi":-0.839},{"c":"ch3","t":82.3,"lo":-1.184,"hi":-0.793},{"c":"ch3","t":86.0,"lo":-1.253,"hi":-0.747},{"c":"ch3","t":88.5,"lo":-1.3,"hi":-0.631},{"c":"ch3","t":90.3,"lo":-1.392,"hi":-0.654},{"c":"ch3","t":92.3,"lo":-1.3,"hi":-0.7},{"c":"ch3","t":96.0,"lo":-1.207,"hi":-0.839},{"c":"ch3","t":99.8,"lo":-1.23,"hi":-0.862},{"c":"ch3","t":103.5,"lo":-1.276,"hi":-0.493},{"c":"ch3","t":107.2,"lo":-1.184,"hi":-0.862},{"c":"ch3","t":112.2,"lo":-1.461,"hi":-0.885},{"c":"ch3","t":118.5,"lo":-1.069,"hi":-0.908},{"c":"ch3","t":283.6,"lo":-1.028,"hi":-0.972}
],
"Eb": [
{"t":123.23,"lo":-4.5,"hi":3.5},{"t":123.7,"lo":-5.5,"hi":4.2},{"t":124.13,"lo":-5.0,"hi":3.8},{"t":124.6,"lo":-6.0,"hi":5.0},{"t":125.04,"lo":-6.5,"hi":4.5},{"t":125.5,"lo":-7.0,"hi":5.5},{"t":125.94,"lo":-8.0,"hi":6.0},{"t":126.3,"lo":-9.0,"hi":8.0},{"t":126.62,"lo":-10.0,"hi":7.5},{"t":126.93,"lo":-11.0,"hi":12.0},{"t":127.29,"lo":-11.5,"hi":10.5},{"t":127.74,"lo":-13.0,"hi":11.5},{"t":128.0,"lo":-12.0,"hi":9.5},{"t":128.19,"lo":-12.0,"hi":12.4},{"t":128.56,"lo":-13.8,"hi":14.0},{"t":128.8,"lo":-12.5,"hi":11.0},{"t":129.1,"lo":-14.4,"hi":14.8},{"t":129.32,"lo":-13.0,"hi":12.0},{"t":129.55,"lo":-12.5,"hi":13.0},{"t":130.0,"lo":-13.5,"hi":11.0},{"t":130.45,"lo":-13.2,"hi":13.0},{"t":130.8,"lo":-12.0,"hi":10.0},{"t":131.13,"lo":-11.4,"hi":10.5},{"t":131.5,"lo":-11.0,"hi":9.0},{"t":131.81,"lo":-12.0,"hi":10.5},{"t":132.2,"lo":-12.5,"hi":12.5},{"t":132.48,"lo":-13.0,"hi":11.5},{"t":132.8,"lo":-14.4,"hi":14.8},{"t":133.16,"lo":-13.5,"hi":13.0},{"t":133.6,"lo":-15.0,"hi":16.0},{"t":134.06,"lo":-15.6,"hi":17.2},{"t":134.5,"lo":-14.5,"hi":15.0},{"t":134.96,"lo":-16.9,"hi":19.7},{"t":135.3,"lo":-18.5,"hi":17.0},{"t":135.64,"lo":-17.0,"hi":16.0},{"t":136.0,"lo":-19.3,"hi":18.4},{"t":136.32,"lo":-18.0,"hi":17.0},{"t":136.7,"lo":-17.5,"hi":20.0},{"t":136.99,"lo":-20.5,"hi":22.1},{"t":137.3,"lo":-19.0,"hi":19.0},{"t":137.67,"lo":-21.0,"hi":21.0},{"t":138.0,"lo":-20.0,"hi":19.5},{"t":138.35,"lo":-22.9,"hi":21.5},{"t":138.7,"lo":-21.0,"hi":20.0},{"t":139.03,"lo":-23.0,"hi":21.5},{"t":139.5,"lo":-24.0,"hi":22.5},{"t":139.93,"lo":-25.4,"hi":23.3},{"t":140.3,"lo":-22.0,"hi":20.0},{"t":140.6,"lo":-23.5,"hi":21.0},{"t":141.0,"lo":-21.7,"hi":18.4},{"t":141.28,"lo":-20.0,"hi":17.0},{"t":141.6,"lo":-19.5,"hi":18.0},{"t":141.96,"lo":-18.0,"hi":16.0},{"t":142.3,"lo":-17.0,"hi":15.0},{"t":142.64,"lo":-18.1,"hi":16.0},{"t":143.0,"lo":-16.5,"hi":13.0},{"t":143.31,"lo":-15.6,"hi":12.4},{"t":143.7,"lo":-15.0,"hi":13.5},{"t":143.99,"lo":-15.6,"hi":12.4},{"t":144.4,"lo":-16.0,"hi":14.0},{"t":144.67,"lo":-16.9,"hi":14.8},{"t":145.0,"lo":-17.5,"hi":16.5},{"t":145.34,"lo":-18.1,"hi":17.5},{"t":145.7,"lo":-18.5,"hi":19.0},{"t":146.02,"lo":-19.3,"hi":22.1},{"t":146.4,"lo":-20.0,"hi":21.0},{"t":146.7,"lo":-21.7,"hi":22.5},{"t":147.1,"lo":-22.0,"hi":24.0},{"t":147.6,"lo":-24.2,"hi":25.7},{"t":148.0,"lo":-23.0,"hi":24.5},{"t":148.5,"lo":-26.6,"hi":29.4},{"t":148.9,"lo":-25.5,"hi":27.0},{"t":149.4,"lo":-29.0,"hi":31.8},{"t":149.7,"lo":-27.0,"hi":30.0},{"t":149.86,"lo":-29.0,"hi":33.0},{"t":150.1,"lo":-30.0,"hi":31.0},{"t":150.31,"lo":-33.9,"hi":35.5},{"t":150.5,"lo":-30.0,"hi":30.0},{"t":150.76,"lo":-30.0,"hi":27.0},{"t":151.0,"lo":-28.0,"hi":30.0},{"t":151.21,"lo":-29.5,"hi":32.0},{"t":151.5,"lo":-28.0,"hi":29.0},{"t":151.66,"lo":-29.0,"hi":33.0},{"t":152.0,"lo":-27.5,"hi":31.0},{"t":152.3,"lo":-27.0,"hi":34.0},{"t":152.56,"lo":-26.6,"hi":36.0},{"t":152.8,"lo":-28.0,"hi":33.0},{"t":153.01,"lo":-30.0,"hi":32.0},{"t":153.3,"lo":-29.0,"hi":34.3},{"t":153.47,"lo":-30.2,"hi":33.0},{"t":153.7,"lo":-28.0,"hi":31.0},{"t":153.92,"lo":-27.0,"hi":30.6},{"t":154.2,"lo":-28.5,"hi":29.0},{"t":154.37,"lo":-26.6,"hi":30.6},{"t":154.6,"lo":-25.0,"hi":28.0},{"t":154.82,"lo":-26.0,"hi":27.0},{"t":155.1,"lo":-24.2,"hi":29.0},{"t":155.27,"lo":-24.5,"hi":27.0},{"t":155.5,"lo":-26.0,"hi":28.5},{"t":155.72,"lo":-28.0,"hi":30.6},{"t":156.0,"lo":-27.0,"hi":28.0},{"t":156.17,"lo":-30.2,"hi":30.0},{"t":156.4,"lo":-27.0,"hi":27.5},{"t":156.62,"lo":-26.0,"hi":26.0},{"t":156.9,"lo":-25.4,"hi":28.0},{"t":157.08,"lo":-25.0,"hi":27.0},{"t":157.3,"lo":-28.0,"hi":29.4},{"t":157.53,"lo":-27.0,"hi":27.0},{"t":157.98,"lo":-27.5,"hi":28.0},{"t":158.2,"lo":-26.6,"hi":26.0},{"t":158.43,"lo":-26.0,"hi":25.0},{"t":158.88,"lo":-26.6,"hi":25.1},{"t":159.1,"lo":-25.0,"hi":27.0},{"t":159.33,"lo":-24.2,"hi":26.0},{"t":159.78,"lo":-24.2,"hi":28.2},{"t":160.0,"lo":-23.0,"hi":26.0},{"t":160.23,"lo":-22.5,"hi":25.0},{"t":160.69,"lo":-21.7,"hi":25.7},{"t":161.14,"lo":-21.0,"hi":24.0},{"t":161.59,"lo":-20.5,"hi":23.3},{"t":162.04,"lo":-20.0,"hi":22.5},{"t":162.49,"lo":-19.3,"hi":24.5},{"t":162.94,"lo":-20.5,"hi":23.0},{"t":163.39,"lo":-21.7,"hi":22.1},{"t":163.84,"lo":-21.0,"hi":23.5},{"t":164.3,"lo":-20.5,"hi":24.5},{"t":164.75,"lo":-19.8,"hi":23.3},{"t":164.97,"lo":-19.3,"hi":22.0},{"t":165.2,"lo":-14.0,"hi":15.0},{"t":165.42,"lo":-12.0,"hi":10.0},{"t":165.65,"lo":-11.5,"hi":9.5},{"t":166.1,"lo":-11.0,"hi":9.0},{"t":166.55,"lo":-10.8,"hi":8.7},{"t":167.2,"lo":-10.5,"hi":9.5},{"t":167.91,"lo":-10.2,"hi":8.1},{"t":168.6,"lo":-9.8,"hi":8.5},{"t":169.26,"lo":-9.6,"hi":7.5},{"t":169.9,"lo":-10.0,"hi":8.5},{"t":170.61,"lo":-10.8,"hi":8.7},{"t":171.3,"lo":-10.0,"hi":9.5},{"t":171.97,"lo":-10.2,"hi":10.5},{"t":172.5,"lo":-10.0,"hi":11.5},{"t":173.1,"lo":-10.2,"hi":13.0},{"t":173.6,"lo":-9.5,"hi":12.0},{"t":174.22,"lo":-8.9,"hi":11.1},{"t":174.9,"lo":-8.5,"hi":10.0},{"t":175.58,"lo":-7.7,"hi":8.7},{"t":176.2,"lo":-7.5,"hi":8.0},{"t":176.93,"lo":-7.1,"hi":7.5},{"t":177.6,"lo":-6.5,"hi":7.2},{"t":178.29,"lo":-5.9,"hi":6.9},{"t":179.2,"lo":-5.6,"hi":6.2},{"t":180.09,"lo":-5.3,"hi":5.7},{"t":181.0,"lo":-5.1,"hi":5.3},{"t":181.9,"lo":-4.9,"hi":5.1},{"t":182.6,"lo":-4.8,"hi":4.7},{"t":183.25,"lo":-4.6,"hi":4.4}
],
"Ebs": [
{"t":126.93,"lo":-8,"hi":19.0},{"t":127.74,"lo":-17.0,"hi":10},{"t":128.56,"lo":-12,"hi":16.6},{"t":139.93,"lo":-27.5,"hi":20},{"t":141.96,"lo":-23.5,"hi":14},{"t":150.76,"lo":-37.5,"hi":25},{"t":152.56,"lo":-20,"hi":38.5},{"t":153.01,"lo":-25,"hi":36.5},{"t":156.17,"lo":-33.9,"hi":20},{"t":157.98,"lo":-35.7,"hi":22}
],
"Eo": [
{"t":123.23,"lo":-0.13,"hi":0.15},{"t":124.13,"lo":-0.14,"hi":0.17},{"t":125.04,"lo":-0.15,"hi":0.19},{"t":125.94,"lo":-0.16,"hi":0.2},{"t":126.84,"lo":-0.18,"hi":0.21},{"t":127.74,"lo":-0.18,"hi":0.22},{"t":128.56,"lo":-0.19,"hi":0.23},{"t":129.55,"lo":-0.18,"hi":0.21},{"t":130.45,"lo":-0.19,"hi":0.23},{"t":131.81,"lo":-0.2,"hi":0.22},{"t":133.16,"lo":-0.2,"hi":0.24},{"t":134.5,"lo":-0.21,"hi":0.23},{"t":135.64,"lo":-0.22,"hi":0.25},{"t":136.99,"lo":-0.23,"hi":0.26},{"t":138.35,"lo":-0.24,"hi":0.25},{"t":139.93,"lo":-0.25,"hi":0.27},{"t":141.28,"lo":-0.25,"hi":0.26},{"t":142.64,"lo":-0.25,"hi":0.27},{"t":143.99,"lo":-0.26,"hi":0.28},{"t":145.34,"lo":-0.28,"hi":0.3},{"t":146.7,"lo":-0.3,"hi":0.32},{"t":147.6,"lo":-0.31,"hi":0.34},{"t":148.5,"lo":-0.33,"hi":0.36},{"t":149.4,"lo":-0.35,"hi":0.38},{"t":150.31,"lo":-0.38,"hi":0.41},{"t":151.21,"lo":-0.4,"hi":0.42},{"t":152.11,"lo":-0.4,"hi":0.43},{"t":153.01,"lo":-0.41,"hi":0.44},{"t":153.92,"lo":-0.39,"hi":0.42},{"t":154.82,"lo":-0.38,"hi":0.4},{"t":155.72,"lo":-0.37,"hi":0.41},{"t":156.62,"lo":-0.35,"hi":0.37},{"t":157.53,"lo":-0.33,"hi":0.34},{"t":158.43,"lo":-0.32,"hi":0.33},{"t":159.33,"lo":-0.31,"hi":0.32},{"t":160.69,"lo":-0.3,"hi":0.3},{"t":162.04,"lo":-0.29,"hi":0.29},{"t":163.39,"lo":-0.28,"hi":0.28},{"t":164.75,"lo":-0.27,"hi":0.28},{"t":165.65,"lo":-0.25,"hi":0.26},{"t":166.55,"lo":-0.24,"hi":0.24},{"t":168.58,"lo":-0.22,"hi":0.22},{"t":170.61,"lo":-0.2,"hi":0.2},{"t":172.5,"lo":-0.19,"hi":0.19},{"t":174.22,"lo":-0.17,"hi":0.18},{"t":176.2,"lo":-0.16,"hi":0.16},{"t":178.29,"lo":-0.14,"hi":0.14},{"t":180.09,"lo":-0.12,"hi":0.12},{"t":181.9,"lo":-0.11,"hi":0.11},{"t":183.25,"lo":-0.1,"hi":0.1}
],
"Eos": [
{"t":124.36,"lo":-0.5,"hi":0.43},{"t":126.53,"lo":-0.52,"hi":0.29},{"t":126.84,"lo":-0.2,"hi":0.32},{"t":128.47,"lo":-1.54,"hi":1.81},{"t":129.32,"lo":-0.63,"hi":0.3},{"t":131.04,"lo":-0.85,"hi":0.77},{"t":131.81,"lo":-0.2,"hi":0.36},{"t":144.21,"lo":-0.82,"hi":0.28},{"t":157.53,"lo":-0.3,"hi":0.5},{"t":164.97,"lo":-0.3,"hi":0.45},{"t":168.58,"lo":-0.42,"hi":0.25},{"t":173.1,"lo":-0.3,"hi":0.24}
],
"Fb": [
{"t":126.69,"lo":-2.0,"hi":1.8},{"t":127.3,"lo":-1.8,"hi":1.7},{"t":127.94,"lo":-1.6,"hi":1.6},{"t":128.8,"lo":-1.5,"hi":1.7},{"t":129.5,"lo":-1.3,"hi":1.5},{"t":130.44,"lo":-1.2,"hi":1.6},{"t":131.5,"lo":-1.1,"hi":1.5},{"t":132.5,"lo":-1.2,"hi":1.6},{"t":133.56,"lo":-1.0,"hi":1.6},{"t":134.5,"lo":-1.1,"hi":1.7},{"t":135.5,"lo":-1.0,"hi":1.6},{"t":136.69,"lo":-1.0,"hi":1.7},{"t":137.7,"lo":-1.1,"hi":1.8},{"t":138.8,"lo":-1.0,"hi":1.7},{"t":139.81,"lo":-1.0,"hi":1.8},{"t":140.8,"lo":-1.1,"hi":1.9},{"t":141.69,"lo":-1.2,"hi":2.0},{"t":142.2,"lo":-1.6,"hi":2.6},{"t":142.63,"lo":-2.4,"hi":4.0},{"t":143.1,"lo":-3.2,"hi":4.5},{"t":143.56,"lo":-4.0,"hi":5.2},{"t":143.9,"lo":-4.4,"hi":5.0},{"t":144.19,"lo":-5.0,"hi":5.6},{"t":144.5,"lo":-5.3,"hi":5.0},{"t":144.81,"lo":-5.6,"hi":5.4},{"t":145.3,"lo":-6.0,"hi":4.8},{"t":145.75,"lo":-6.6,"hi":4.8},{"t":146.06,"lo":-6.2,"hi":4.5},{"t":146.38,"lo":-5.6,"hi":4.0},{"t":146.8,"lo":-4.8,"hi":3.4},{"t":147.31,"lo":-4.2,"hi":2.8},{"t":147.9,"lo":-3.2,"hi":2.5},{"t":148.56,"lo":-2.4,"hi":2.2},{"t":149.5,"lo":-2.0,"hi":2.0},{"t":150.44,"lo":-1.8,"hi":2.0},{"t":151.5,"lo":-1.8,"hi":1.9},{"t":152.94,"lo":-1.8,"hi":2.0},{"t":154.2,"lo":-1.7,"hi":2.0},{"t":155.44,"lo":-1.6,"hi":2.0},{"t":156.1,"lo":-2.0,"hi":2.2},{"t":156.69,"lo":-3.2,"hi":2.8},{"t":157.0,"lo":-4.0,"hi":3.8},{"t":157.63,"lo":-5.2,"hi":5.6},{"t":157.9,"lo":-6.5,"hi":7.0},{"t":158.25,"lo":-8.0,"hi":9.6},{"t":158.5,"lo":-9.0,"hi":10.5},{"t":158.88,"lo":-11.0,"hi":12.0},{"t":159.2,"lo":-10.0,"hi":11.0},{"t":159.5,"lo":-10.4,"hi":11.2},{"t":159.81,"lo":-10.0,"hi":12.5},{"t":160.13,"lo":-9.0,"hi":11.6},{"t":160.44,"lo":-8.5,"hi":10.0},{"t":160.75,"lo":-8.0,"hi":8.8},{"t":161.2,"lo":-6.8,"hi":7.5},{"t":161.69,"lo":-5.6,"hi":6.4},{"t":162.2,"lo":-4.5,"hi":4.5},{"t":162.63,"lo":-3.6,"hi":3.6},{"t":162.94,"lo":-3.2,"hi":3.2},{"t":163.56,"lo":-2.8,"hi":3.0},{"t":164.2,"lo":-2.5,"hi":3.3},{"t":164.81,"lo":-2.2,"hi":3.4},{"t":165.7,"lo":-2.4,"hi":3.2},{"t":166.69,"lo":-2.4,"hi":3.6},{"t":167.6,"lo":-2.6,"hi":3.4},{"t":168.56,"lo":-2.8,"hi":3.8},{"t":169.5,"lo":-3.5,"hi":4.2},{"t":170.44,"lo":-4.0,"hi":4.8},{"t":171.06,"lo":-3.8,"hi":4.6},{"t":171.69,"lo":-3.6,"hi":4.4},{"t":172.3,"lo":-3.3,"hi":4.2},{"t":172.94,"lo":-3.0,"hi":4.0},{"t":173.6,"lo":-2.9,"hi":3.6},{"t":174.19,"lo":-2.8,"hi":3.4},{"t":175.1,"lo":-3.0,"hi":3.6},{"t":176.06,"lo":-3.4,"hi":4.0},{"t":176.7,"lo":-4.0,"hi":4.6},{"t":177.31,"lo":-4.8,"hi":5.6},{"t":177.63,"lo":-5.0,"hi":5.0},{"t":178.0,"lo":-4.4,"hi":4.8},{"t":178.56,"lo":-4.0,"hi":4.4},{"t":179.5,"lo":-3.4,"hi":4.0},{"t":180.44,"lo":-3.0,"hi":3.8},{"t":181.4,"lo":-3.1,"hi":3.9},{"t":182.31,"lo":-3.2,"hi":4.0},{"t":183.0,"lo":-3.3,"hi":3.8},{"t":183.56,"lo":-3.4,"hi":3.9},{"t":184.19,"lo":-3.4,"hi":3.8},{"t":184.7,"lo":-3.8,"hi":4.2},{"t":185.13,"lo":-3.6,"hi":4.0},{"t":185.6,"lo":-2.5,"hi":2.8},{"t":186.06,"lo":-2.0,"hi":2.4},{"t":187.0,"lo":-1.9,"hi":2.3},{"t":187.94,"lo":-1.8,"hi":2.2},{"t":189.2,"lo":-1.7,"hi":2.4},{"t":190.44,"lo":-1.6,"hi":2.5},{"t":191.7,"lo":-1.5,"hi":2.1},{"t":192.94,"lo":-1.4,"hi":2.0},{"t":194.5,"lo":-1.3,"hi":1.9},{"t":196.06,"lo":-1.2,"hi":1.8},{"t":197.6,"lo":-1.1,"hi":1.7},{"t":199.19,"lo":-1.0,"hi":1.6},{"t":200.8,"lo":-0.8,"hi":1.5},{"t":202.31,"lo":-0.6,"hi":1.4},{"t":203.9,"lo":-0.5,"hi":1.35},{"t":205.44,"lo":-0.4,"hi":1.3},{"t":207.6,"lo":-0.3,"hi":1.2},{"t":209.81,"lo":-0.2,"hi":1.1}
],
"Fbs": [
{"t":144.19,"lo":-3.0,"hi":7.4},{"t":157.9,"lo":-9.5,"hi":8.0},{"t":158.88,"lo":-12.2,"hi":5.0},{"t":159.81,"lo":-5.0,"hi":12.9},{"t":169.5,"lo":-6.0,"hi":3.0},{"t":170.75,"lo":-6.4,"hi":4.0},{"t":176.8,"lo":-6.0,"hi":5.0},{"t":177.63,"lo":-8.2,"hi":7.0},{"t":185.13,"lo":-7.6,"hi":6.6}
],
"Fo": [
{"t":126.69,"lo":-0.07,"hi":0.07},{"t":127.94,"lo":-0.07,"hi":0.06},{"t":129.5,"lo":-0.06,"hi":0.07},{"t":131.5,"lo":-0.07,"hi":0.06},{"t":133.56,"lo":-0.06,"hi":0.07},{"t":135.5,"lo":-0.06,"hi":0.06},{"t":137.7,"lo":-0.07,"hi":0.07},{"t":139.81,"lo":-0.06,"hi":0.07},{"t":141.69,"lo":-0.08,"hi":0.08},{"t":142.63,"lo":-0.16,"hi":0.18},{"t":143.1,"lo":-0.19,"hi":0.22},{"t":143.56,"lo":-0.22,"hi":0.24},{"t":144.19,"lo":-0.25,"hi":0.27},{"t":144.81,"lo":-0.26,"hi":0.28},{"t":145.3,"lo":-0.27,"hi":0.26},{"t":145.75,"lo":-0.25,"hi":0.25},{"t":146.38,"lo":-0.21,"hi":0.2},{"t":147.31,"lo":-0.14,"hi":0.14},{"t":148.0,"lo":-0.1,"hi":0.1},{"t":148.56,"lo":-0.08,"hi":0.08},{"t":150.44,"lo":-0.08,"hi":0.08},{"t":152.94,"lo":-0.08,"hi":0.08},{"t":155.44,"lo":-0.08,"hi":0.08},{"t":156.1,"lo":-0.1,"hi":0.1},{"t":156.69,"lo":-0.15,"hi":0.15},{"t":157.0,"lo":-0.18,"hi":0.18},{"t":157.63,"lo":-0.25,"hi":0.25},{"t":158.25,"lo":-0.32,"hi":0.32},{"t":158.88,"lo":-0.38,"hi":0.38},{"t":159.5,"lo":-0.42,"hi":0.42},{"t":160.13,"lo":-0.4,"hi":0.38},{"t":160.44,"lo":-0.35,"hi":0.35},{"t":160.75,"lo":-0.3,"hi":0.3},{"t":161.2,"lo":-0.24,"hi":0.25},{"t":161.69,"lo":-0.19,"hi":0.21},{"t":162.2,"lo":-0.14,"hi":0.15},{"t":162.63,"lo":-0.12,"hi":0.12},{"t":163.56,"lo":-0.12,"hi":0.12},{"t":164.81,"lo":-0.13,"hi":0.14},{"t":166.69,"lo":-0.14,"hi":0.14},{"t":168.56,"lo":-0.15,"hi":0.15},{"t":170.44,"lo":-0.17,"hi":0.18},{"t":172.94,"lo":-0.16,"hi":0.16},{"t":174.19,"lo":-0.16,"hi":0.16},{"t":176.06,"lo":-0.17,"hi":0.17},{"t":177.31,"lo":-0.18,"hi":0.19},{"t":178.56,"lo":-0.17,"hi":0.17},{"t":180.44,"lo":-0.16,"hi":0.17},{"t":182.31,"lo":-0.16,"hi":0.16},{"t":184.19,"lo":-0.16,"hi":0.16},{"t":185.13,"lo":-0.15,"hi":0.15},{"t":186.06,"lo":-0.12,"hi":0.12},{"t":187.94,"lo":-0.12,"hi":0.12},{"t":190.44,"lo":-0.11,"hi":0.11},{"t":192.94,"lo":-0.1,"hi":0.1},{"t":196.06,"lo":-0.09,"hi":0.09},{"t":199.19,"lo":-0.07,"hi":0.07},{"t":202.31,"lo":-0.06,"hi":0.06},{"t":205.44,"lo":-0.06,"hi":0.06},{"t":209.81,"lo":-0.05,"hi":0.05}
],
"Fos": [
{"t":126.88,"lo":-0.25,"hi":0.28},{"t":127.94,"lo":-0.1,"hi":0.19},{"t":128.69,"lo":-1.14,"hi":1.06},{"t":128.94,"lo":-0.1,"hi":0.51},{"t":130.13,"lo":-0.18,"hi":0.28},{"t":131.25,"lo":-0.28,"hi":0.35},{"t":131.81,"lo":-0.18,"hi":0.32},{"t":132.31,"lo":-0.49,"hi":0.25},{"t":133.38,"lo":-0.19,"hi":0.28},{"t":134.5,"lo":-0.13,"hi":0.21},{"t":138.06,"lo":-0.4,"hi":0.32},{"t":140.31,"lo":-0.12,"hi":0.28},{"t":152.0,"lo":-0.11,"hi":0.19}
]
},
"spacing": 25,
"resolve": {"scale": {"color": "independent"}, "legend": {"color": "independent"}},
"hconcat": [
{
"bounds": "flush",
"spacing": 21,
"resolve": {"scale": {"color": "independent"}, "legend": {"color": "independent"}},
"title": {"text": "A", "anchor": "start", "frame": "bounds", "fontSize": 28, "fontWeight": "normal", "color": "#000", "baseline": "alphabetic", "offset": -69, "dx": 2},
"vconcat": [
{
"width": 401, "height": 177,
"title": {"text": ["Seismic and Infrasound Records", "Lahar Event - Dec 1, 2018"], "anchor": "middle", "frame": "group", "fontSize": 13, "fontWeight": "bold", "lineHeight": 16.5, "offset": -3.5, "color": "#333"},
"view": {"stroke": "#9a9a9a"},
"layer": [
{"data": {"name": "A"}, "mark": {"type": "area", "opacity": 1, "clip": true},
"encoding": {
"x": {"field": "t", "type": "quantitative", "scale": {"domain": [0, 300], "nice": false, "zero": false}, "axis": {"title": null, "labels": false, "ticks": true, "tickSize": -4, "tickColor": "#9a9a9a", "values": [60, 120, 180, 240], "domain": false}},
"y": {"field": "lo", "type": "quantitative", "stack": null, "scale": {"domain": [-2.686, 0.784], "nice": false, "zero": false}, "axis": {"title": ["Seismic", "Amplitudes (μm/s)"], "labels": false, "ticks": false, "domain": false, "titleFontSize": 11, "titleFontWeight": "bold", "titleColor": "#262626", "titlePadding": 11, "titleLineHeight": 11}},
"y2": {"field": "hi"},
"color": {"field": "c", "type": "nominal", "scale": {"domain": ["FG12Z", "FG12N", "FG12E"], "range": ["#0072BD", "#D95319", "#EDB120"]}, "legend": {"title": null, "orient": "top-right", "offset": 8, "symbolType": "M-4.33,0H4.33", "symbolSize": 81, "symbolStrokeWidth": 1, "symbolOffset": 13.5, "labelFontSize": 10, "labelColor": "#333", "strokeColor": "#666", "fillColor": "white", "padding": 5, "rowPadding": 12, "labelOffset": 17.5}}
}},
{"data": {"name": "As"}, "mark": {"type": "rule", "clip": true, "strokeWidth": 1},
"encoding": {
"x": {"field": "t", "type": "quantitative"},
"y": {"field": "lo", "type": "quantitative"},
"y2": {"field": "hi"},
"color": {"field": "c", "type": "nominal", "legend": {"title": null, "orient": "top-right", "offset": 8, "symbolType": "M-4.33,0H4.33", "symbolSize": 81, "symbolStrokeWidth": 1, "symbolOffset": 13.5, "labelFontSize": 10, "labelColor": "#333", "strokeColor": "#666", "fillColor": "white", "padding": 5, "rowPadding": 12, "labelOffset": 17.5}}
}}
]
},
{
"width": 401, "height": 178,
"title": {"text": "B", "anchor": "start", "frame": "bounds", "fontSize": 28, "fontWeight": "normal", "color": "#000", "baseline": "alphabetic", "offset": -49, "dx": 2},
"view": {"stroke": "#9a9a9a"},
"layer": [
{"data": {"name": "B"}, "mark": {"type": "area", "opacity": 1, "clip": true},
"encoding": {
"x": {"field": "t", "type": "quantitative", "scale": {"domain": [0, 300], "nice": false, "zero": false}, "axis": {"title": null, "labels": false, "ticks": true, "tickSize": -4, "tickColor": "#9a9a9a", "values": [60, 120, 180, 240], "domain": false}},
"y": {"field": "lo", "type": "quantitative", "stack": null, "scale": {"domain": [-2.753, 0.75], "nice": false, "zero": false}, "axis": {"title": ["Acoustic", "Amplitudes (Pa)"], "labels": false, "ticks": false, "domain": false, "titleFontSize": 11, "titleFontWeight": "bold", "titleColor": "#262626", "titlePadding": 11, "titleLineHeight": 11}},
"y2": {"field": "hi"},
"color": {"field": "c", "type": "nominal", "scale": {"domain": ["ch1", "ch2", "ch3"], "range": ["#0072BD", "#D95319", "#EDB120"]}, "legend": {"title": null, "orient": "top-right", "offset": 8, "symbolType": "M-3.44,0H3.44", "symbolSize": 81, "symbolStrokeWidth": 1, "symbolOffset": 11.5, "labelFontSize": 10, "labelColor": "#333", "strokeColor": "#666", "fillColor": "white", "padding": 6, "rowPadding": 2.5, "labelOffset": 19}}
}},
{"data": {"name": "Bs"}, "mark": {"type": "rule", "clip": true, "strokeWidth": 1},
"encoding": {
"x": {"field": "t", "type": "quantitative"},
"y": {"field": "lo", "type": "quantitative"},
"y2": {"field": "hi"},
"color": {"field": "c", "type": "nominal", "legend": {"title": null, "orient": "top-right", "offset": 8, "symbolType": "M-3.44,0H3.44", "symbolSize": 81, "symbolStrokeWidth": 1, "symbolOffset": 11.5, "labelFontSize": 10, "labelColor": "#333", "strokeColor": "#666", "fillColor": "white", "padding": 6, "rowPadding": 2.5, "labelOffset": 19}}
}}
]
},
{
"width": 401, "height": 177,
"title": {"text": "C", "anchor": "start", "frame": "bounds", "fontSize": 28, "fontWeight": "normal", "color": "#000", "baseline": "alphabetic", "offset": -34, "dx": 2},
"view": {"stroke": "#9a9a9a"},
"layer": [
{"data": {"name": "C"}, "mark": {"type": "area", "opacity": 1, "clip": true},
"encoding": {
"x": {"field": "t", "type": "quantitative", "scale": {"domain": [0, 300], "nice": false, "zero": false}, "axis": {"title": null, "labels": false, "ticks": true, "tickSize": -4, "tickColor": "#9a9a9a", "values": [60, 120, 180, 240], "domain": false}},
"y": {"field": "lo", "type": "quantitative", "stack": null, "scale": {"domain": [-2.76, 0.73], "nice": false, "zero": false}, "axis": {"title": ["Seismic", "Amplitudes (μm/s)"], "labels": false, "ticks": false, "domain": false, "titleFontSize": 11, "titleFontWeight": "bold", "titleColor": "#262626", "titlePadding": 11, "titleLineHeight": 11}},
"y2": {"field": "hi"},
"color": {"field": "c", "type": "nominal", "scale": {"domain": ["FG13Z", "FG13N", "FG13E"], "range": ["#0072BD", "#D95319", "#EDB120"]}, "legend": {"title": null, "orient": "top-right", "offset": 7, "symbolType": "M-4.33,0H4.33", "symbolSize": 81, "symbolStrokeWidth": 1, "symbolOffset": 13.5, "labelFontSize": 10, "labelColor": "#333", "strokeColor": "#666", "fillColor": "white", "padding": 5, "rowPadding": 12, "labelOffset": 17.5}}
}},
{"data": {"name": "Cs"}, "mark": {"type": "rule", "clip": true, "strokeWidth": 1},
"encoding": {
"x": {"field": "t", "type": "quantitative"},
"y": {"field": "lo", "type": "quantitative"},
"y2": {"field": "hi"},
"color": {"field": "c", "type": "nominal", "legend": {"title": null, "orient": "top-right", "offset": 7, "symbolType": "M-4.33,0H4.33", "symbolSize": 81, "symbolStrokeWidth": 1, "symbolOffset": 13.5, "labelFontSize": 10, "labelColor": "#333", "strokeColor": "#666", "fillColor": "white", "padding": 5, "rowPadding": 12, "labelOffset": 17.5}}
}}
]
},
{
"width": 401, "height": 178,
"title": {"text": "D", "anchor": "start", "frame": "bounds", "fontSize": 28, "fontWeight": "normal", "color": "#000", "baseline": "alphabetic", "offset": -43, "dx": 2},
"view": {"stroke": "#9a9a9a"},
"layer": [
{"data": {"name": "D"}, "mark": {"type": "area", "opacity": 1, "clip": true},
"encoding": {
"x": {"field": "t", "type": "quantitative", "scale": {"domain": [0, 300], "nice": false, "zero": false}, "axis": {"title": "UTC Time (HH:MM:SS)", "values": [0, 60, 120, 180, 240, 300], "labelExpr": "utcFormat(datum.value*60000, '%H:%M:%S')", "labelFlush": false, "labelFontSize": 12, "labelColor": "#4d4d4d", "labelPadding": 14, "ticks": true, "tickSize": -4, "tickColor": "#9a9a9a", "domain": false, "titleFontSize": 11, "titleFontWeight": "normal", "titleColor": "#333", "titlePadding": 7}},
"y": {"field": "lo", "type": "quantitative", "stack": null, "scale": {"domain": [-1.737, 0.757], "nice": false, "zero": false}, "axis": {"title": ["Acoustic", "Amplitudes (Pa)"], "labels": false, "ticks": false, "domain": false, "titleFontSize": 11, "titleFontWeight": "bold", "titleColor": "#262626", "titlePadding": 11, "titleLineHeight": 11}},
"y2": {"field": "hi"},
"color": {"field": "c", "type": "nominal", "scale": {"domain": ["ch2", "ch3"], "range": ["#0072BD", "#D95319"]}, "legend": {"title": null, "orient": "top-right", "offset": 7, "symbolType": "M-3.44,0H3.44", "symbolSize": 81, "symbolStrokeWidth": 1, "symbolOffset": 11.5, "labelFontSize": 10, "labelColor": "#333", "strokeColor": "#666", "fillColor": "white", "padding": 6, "rowPadding": 2.5, "labelOffset": 19}}
}},
{"data": {"name": "Ds"}, "mark": {"type": "rule", "clip": true, "strokeWidth": 1},
"encoding": {
"x": {"field": "t", "type": "quantitative"},
"y": {"field": "lo", "type": "quantitative"},
"y2": {"field": "hi"},
"color": {"field": "c", "type": "nominal", "legend": {"title": null, "orient": "top-right", "offset": 7, "symbolType": "M-3.44,0H3.44", "symbolSize": 81, "symbolStrokeWidth": 1, "symbolOffset": 11.5, "labelFontSize": 10, "labelColor": "#333", "strokeColor": "#666", "fillColor": "white", "padding": 6, "rowPadding": 2.5, "labelOffset": 19}}
}}
]
}
]
},
{
"spacing": 51,
"resolve": {"scale": {"color": "independent"}, "legend": {"color": "independent"}},
"vconcat": [
{"width": 443, "height": 8, "view": {"stroke": null}, "data": {"values": []}, "mark": {"type": "point"}, "encoding": {}},
{
"spacing": 75,
"resolve": {"scale": {"color": "independent"}, "legend": {"color": "independent"}},
"vconcat": [
{
"title": {"text": "E", "anchor": "start", "frame": "bounds", "fontSize": 28, "fontWeight": "normal", "color": "#000", "baseline": "alphabetic", "offset": -54},
"resolve": {"scale": {"color": "independent"}, "legend": {"color": "independent"}},
"vconcat": [
{
"width": 443, "height": 210,
"title": {"text": ["Seismic and Acoustic Amplitudes", "FG12 - ch2"], "anchor": "middle", "frame": "group", "fontSize": 14.5, "fontWeight": "bold", "lineHeight": 21, "offset": 2, "color": "#1a1a1a"},
"view": {"stroke": "#a9c4dc"},
"resolve": {"scale": {"y": "independent"}},
"layer": [
{"layer": [
{"data": {"name": "Eb"}, "mark": {"type": "area", "opacity": 1, "clip": true},
"encoding": {
"x": {"field": "t", "type": "quantitative", "scale": {"domain": [123.23, 183.25], "nice": false, "zero": false}, "axis": {"values": [130, 140, 150, 160, 170, 180], "labelExpr": "utcFormat(datum.value*60000, '%H:%M:%S')", "labelFlush": false, "labelFontSize": 13.5, "labelColor": "#333", "labelPadding": 15, "tickSize": -5, "tickColor": "#555", "domainColor": "#8fa9bf", "title": "UTC Time of Recorded Event (HH:MM:SS)", "titleFontSize": 13.5, "titleFontWeight": "normal", "titleColor": "#333", "titlePadding": 9}},
"y": {"field": "lo", "type": "quantitative", "stack": null, "scale": {"domain": [-37.5, 39.1], "nice": false, "zero": false}, "axis": {"orient": "left", "values": [-30, -20, -10, 0, 10, 20, 30], "labelExpr": "toString(datum.value)", "labelFontSize": 14, "labelColor": "#3f92d2", "labelPadding": 10, "tickSize": -5, "tickColor": "#4f9bd6", "domainColor": "#62aade", "title": "Seismic Amplitudes (μm/s)", "titleFontSize": 14.5, "titleFontWeight": "normal", "titleColor": "#222", "titlePadding": 4}},
"y2": {"field": "hi"},
"color": {"datum": "vertical seismic", "type": "nominal", "scale": {"domain": ["vertical seismic", "infrasound"], "range": ["#0072BD", "#D95319"]}, "legend": {"title": null, "orient": "top-right", "offset": 9, "symbolType": "M-3.17,0H3.17", "symbolSize": 144, "symbolStrokeWidth": 1.5, "symbolOffset": 11.25, "labelFontSize": 13, "labelColor": "#333", "strokeColor": "#666", "fillColor": "white", "padding": 6, "rowPadding": 7, "labelOffset": 20.5}}
}},
{"data": {"name": "Ebs"}, "mark": {"type": "rule", "clip": true, "strokeWidth": 1},
"encoding": {
"x": {"field": "t", "type": "quantitative"},
"y": {"field": "lo", "type": "quantitative"},
"y2": {"field": "hi"},
"color": {"datum": "vertical seismic", "type": "nominal", "legend": {"title": null, "orient": "top-right", "offset": 9, "symbolType": "M-3.17,0H3.17", "symbolSize": 144, "symbolStrokeWidth": 1.5, "symbolOffset": 11.25, "labelFontSize": 13, "labelColor": "#333", "strokeColor": "#666", "fillColor": "white", "padding": 6, "rowPadding": 7, "labelOffset": 20.5}}
}},
{"data": {"values": [{}]}, "mark": {"type": "rule", "color": "#1a1a1a", "strokeWidth": 1.2},
"encoding": {"x": {"datum": 131.13, "type": "quantitative"}, "y": {"datum": 30.0, "type": "quantitative"}, "x2": {"datum": 129.0}, "y2": {"datum": 21.0}}},
{"data": {"values": [{}]}, "mark": {"type": "point", "shape": "triangle-up", "filled": true, "color": "#1a1a1a", "size": 55, "angle": 212, "opacity": 1},
"encoding": {"x": {"datum": 129.0, "type": "quantitative"}, "y": {"datum": 21.0, "type": "quantitative"}}},
{"data": {"values": [{}]}, "mark": {"type": "text", "text": "Lightning Spike", "fontSize": 14, "fontWeight": "bold", "align": "left", "baseline": "middle", "color": "#1a1a1a"},
"encoding": {"x": {"datum": 131.8, "type": "quantitative"}, "y": {"datum": 33.0, "type": "quantitative"}}}
]},
{"layer": [
{"data": {"name": "Eo"}, "mark": {"type": "area", "opacity": 1, "clip": true},
"encoding": {
"x": {"field": "t", "type": "quantitative"},
"y": {"field": "lo", "type": "quantitative", "stack": null, "scale": {"domain": [-1.54, 1.81], "nice": false, "zero": false}, "axis": {"orient": "right", "values": [-1.5, -1, -0.5, 0, 0.5, 1, 1.5], "labelExpr": "toString(datum.value)", "labelFontSize": 14, "labelColor": "#d8652d", "labelPadding": 10, "tickSize": -5, "tickColor": "#e07a40", "domainColor": "#e6915e", "title": null}},
"y2": {"field": "hi"},
"color": {"datum": "infrasound", "type": "nominal", "legend": {"title": null, "orient": "top-right", "offset": 9, "symbolType": "M-3.17,0H3.17", "symbolSize": 144, "symbolStrokeWidth": 1.5, "symbolOffset": 11.25, "labelFontSize": 13, "labelColor": "#333", "strokeColor": "#666", "fillColor": "white", "padding": 6, "rowPadding": 7, "labelOffset": 20.5}}
}},
{"data": {"name": "Eos"}, "mark": {"type": "rule", "clip": true, "strokeWidth": 1.2},
"encoding": {
"x": {"field": "t", "type": "quantitative"},
"y": {"field": "lo", "type": "quantitative"},
"y2": {"field": "hi"},
"color": {"datum": "infrasound", "type": "nominal", "legend": {"title": null, "orient": "top-right", "offset": 9, "symbolType": "M-3.17,0H3.17", "symbolSize": 144, "symbolStrokeWidth": 1.5, "symbolOffset": 11.25, "labelFontSize": 13, "labelColor": "#333", "strokeColor": "#666", "fillColor": "white", "padding": 6, "rowPadding": 7, "labelOffset": 20.5}}
}}
]}
]
}
]
},
{
"title": {"text": "F", "anchor": "start", "frame": "bounds", "fontSize": 28, "fontWeight": "normal", "color": "#000", "baseline": "alphabetic", "offset": -34},
"resolve": {"scale": {"color": "independent"}, "legend": {"color": "independent"}},
"vconcat": [
{
"width": 443, "height": 209,
"title": {"text": "FG13 - ch2", "anchor": "middle", "frame": "group", "fontSize": 14.5, "fontWeight": "bold", "offset": 0, "color": "#1a1a1a"},
"view": {"stroke": "#a9c4dc"},
"resolve": {"scale": {"y": "independent"}},
"layer": [
{"layer": [
{"data": {"name": "Fb"}, "mark": {"type": "area", "opacity": 1, "clip": true},
"encoding": {
"x": {"field": "t", "type": "quantitative", "scale": {"domain": [126.69, 209.81], "nice": false, "zero": false}, "axis": {"values": [135, 150, 165, 180, 195], "labelExpr": "utcFormat(datum.value*60000, '%H:%M:%S')", "labelFlush": false, "labelFontSize": 13.5, "labelColor": "#333", "labelPadding": 15, "tickSize": -5, "tickColor": "#555", "domainColor": "#8fa9bf", "title": "UTC Time of Recorded Event (HH:MM:SS)", "titleFontSize": 13.5, "titleFontWeight": "normal", "titleColor": "#333", "titlePadding": 9}},
"y": {"field": "lo", "type": "quantitative", "stack": null, "scale": {"domain": [-12.2, 12.88], "nice": false, "zero": false}, "axis": {"orient": "left", "values": [-10, -5, 0, 5, 10], "labelExpr": "toString(datum.value)", "labelFontSize": 14, "labelColor": "#3f92d2", "labelPadding": 10, "tickSize": -5, "tickColor": "#4f9bd6", "domainColor": "#62aade", "title": "Seismic Amplitudes (μm/s)", "titleFontSize": 14.5, "titleFontWeight": "normal", "titleColor": "#222", "titlePadding": 4}},
"y2": {"field": "hi"},
"color": {"datum": "vertical seismic", "type": "nominal", "scale": {"domain": ["vertical seismic", "infrasound"], "range": ["#0072BD", "#D95319"]}, "legend": {"title": null, "orient": "top-right", "offset": 9, "symbolType": "M-3.17,0H3.17", "symbolSize": 144, "symbolStrokeWidth": 1.5, "symbolOffset": 11.25, "labelFontSize": 13, "labelColor": "#333", "strokeColor": "#666", "fillColor": "white", "padding": 6, "rowPadding": 7, "labelOffset": 20.5}}
}},
{"data": {"name": "Fbs"}, "mark": {"type": "rule", "clip": true, "strokeWidth": 1},
"encoding": {
"x": {"field": "t", "type": "quantitative"},
"y": {"field": "lo", "type": "quantitative"},
"y2": {"field": "hi"},
"color": {"datum": "vertical seismic", "type": "nominal", "legend": {"title": null, "orient": "top-right", "offset": 9, "symbolType": "M-3.17,0H3.17", "symbolSize": 144, "symbolStrokeWidth": 1.5, "symbolOffset": 11.25, "labelFontSize": 13, "labelColor": "#333", "strokeColor": "#666", "fillColor": "white", "padding": 6, "rowPadding": 7, "labelOffset": 20.5}}
}},
{"data": {"values": [{}]}, "mark": {"type": "rule", "color": "#1a1a1a", "strokeWidth": 1.2},
"encoding": {"x": {"datum": 134.3, "type": "quantitative"}, "y": {"datum": 10.5, "type": "quantitative"}, "x2": {"datum": 129.59}, "y2": {"datum": 8.25}}},
{"data": {"values": [{}]}, "mark": {"type": "point", "shape": "triangle-up", "filled": true, "color": "#1a1a1a", "size": 55, "angle": 233.5, "opacity": 1},
"encoding": {"x": {"datum": 129.59, "type": "quantitative"}, "y": {"datum": 8.25, "type": "quantitative"}}},
{"data": {"values": [{}]}, "mark": {"type": "text", "text": "Lightning Spike", "fontSize": 14, "fontWeight": "bold", "align": "left", "baseline": "middle", "color": "#1a1a1a"},
"encoding": {"x": {"datum": 135.3, "type": "quantitative"}, "y": {"datum": 11.5, "type": "quantitative"}}}
]},
{"layer": [
{"data": {"name": "Fo"}, "mark": {"type": "area", "opacity": 1, "clip": true},
"encoding": {
"x": {"field": "t", "type": "quantitative"},
"y": {"field": "lo", "type": "quantitative", "stack": null, "scale": {"domain": [-1.14, 1.06], "nice": false, "zero": false}, "axis": {"orient": "right", "values": [-1, -0.5, 0, 0.5, 1], "labelExpr": "toString(datum.value)", "labelFontSize": 14, "labelColor": "#d8652d", "labelPadding": 10, "tickSize": -5, "tickColor": "#e07a40", "domainColor": "#e6915e", "title": null}},
"y2": {"field": "hi"},
"color": {"datum": "infrasound", "type": "nominal", "legend": {"title": null, "orient": "top-right", "offset": 9, "symbolType": "M-3.17,0H3.17", "symbolSize": 144, "symbolStrokeWidth": 1.5, "symbolOffset": 11.25, "labelFontSize": 13, "labelColor": "#333", "strokeColor": "#666", "fillColor": "white", "padding": 6, "rowPadding": 7, "labelOffset": 20.5}}
}},
{"data": {"name": "Fos"}, "mark": {"type": "rule", "clip": true, "strokeWidth": 1.2},
"encoding": {
"x": {"field": "t", "type": "quantitative"},
"y": {"field": "lo", "type": "quantitative"},
"y2": {"field": "hi"},
"color": {"datum": "infrasound", "type": "nominal", "legend": {"title": null, "orient": "top-right", "offset": 9, "symbolType": "M-3.17,0H3.17", "symbolSize": 144, "symbolStrokeWidth": 1.5, "symbolOffset": 11.25, "labelFontSize": 13, "labelColor": "#333", "strokeColor": "#666", "fillColor": "white", "padding": 6, "rowPadding": 7, "labelOffset": 20.5}}
}}
]}
]
}
]
}
]
}
]
}
]
}
